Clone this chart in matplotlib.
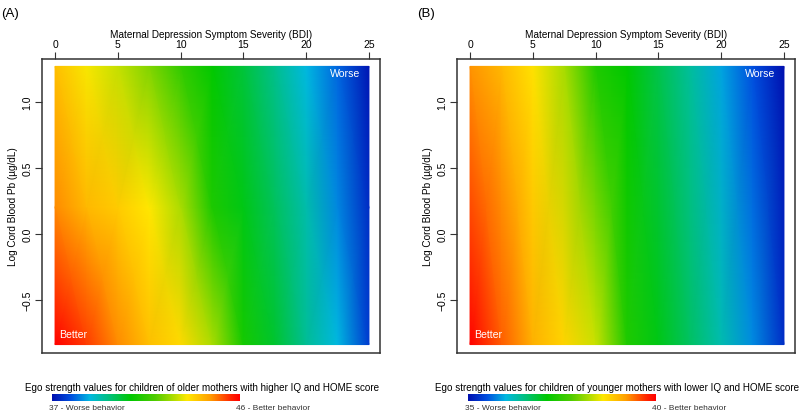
import numpy as np
import matplotlib.pyplot as plt
from matplotlib.colors import LinearSegmentedColormap

plt.rcParams['font.family'] = ['Liberation Sans', 'DejaVu Sans']

# BDI grid (x) and log cord blood Pb rows (y)
bdi = [0, 2.5, 5, 7.5, 10, 12.5, 15, 17.5, 20, 22.5, 25]
pb_a = [-0.84, 0.2, 1.27]
pb_b = [-0.84, 1.27]

# ego strength values, rows bottom -> top
ego_a_bottom = [46.0, 45.4, 44.7, 44.1, 43.7, 42.8, 41.1, 40.4, 39.5, 38.8, 37.6]
ego_a_mid = [44.7, 44.2, 43.9, 43.5, 42.8, 41.2, 40.6, 40.0, 39.3, 38.4, 37.4]
ego_a_top = [44.1, 43.4, 43.0, 42.4, 41.5, 40.8, 40.3, 39.6, 38.8, 38.1, 37.1]

# panel (B)
ego_b_bottom = [40.0, 39.5, 39.05, 38.75, 38.35, 37.35, 37.0, 36.65, 36.25, 35.8, 35.25]
ego_b_top = [39.25, 39.0, 38.65, 38.2, 37.35, 37.1, 36.75, 36.35, 35.9, 35.5, 35.0]

range_a = (37, 46)
range_b = (35, 40)

titles = ["Ego strength values for children of older mothers with higher IQ and HOME score",
          "Ego strength values for children of younger mothers with lower IQ and HOME score"]

cmap = LinearSegmentedColormap.from_list("ego", [
    (0.00, "#0010b0"), (0.10, "#0050e0"), (0.20, "#00b8e0"), (0.30, "#00c080"),
    (0.42, "#00c800"), (0.55, "#50cc00"), (0.64, "#a8dc00"), (0.72, "#ffe800"),
    (0.84, "#ffa000"), (0.95, "#ff2800"), (1.00, "#ff0000")])

fig = plt.figure(figsize=(8, 4.14), dpi=100)
W, H = 800, 414

def px(l, t, r, b):
    return [l / W, 1 - b / H, (r - l) / W, (b - t) / H]

panels = [
    (42, 1, "(A)", pb_a, [ego_a_bottom, ego_a_mid, ego_a_top], range_a, titles[0], 52, 202),
    (457, 417, "(B)", pb_b, [ego_b_bottom, ego_b_top], range_b, titles[1], 468, 617),
]

for x0, lx, lab, ys, rows, vr, title, cx0, tx in panels:
    ax = fig.add_axes(px(x0, 60, x0 + 338, 354))
    Z = np.array(rows)
    ax.pcolormesh(bdi, ys, Z, shading="gouraud", cmap=cmap, vmin=vr[0], vmax=vr[1])
    ax.set_xlim(-1.04, 25.88)
    ax.set_ylim(-0.904, 1.326)
    ax.xaxis.tick_top()
    ax.xaxis.set_label_position("top")
    ax.set_xticks([0, 5, 10, 15, 20, 25])
    ax.set_yticks([-0.5, 0.0, 0.5, 1.0])
    ax.set_yticklabels(["\u22120.5", "0.0", "0.5", "1.0"], rotation=90, va="center")
    ax.tick_params(labelsize=7.5, length=5, width=0.8, color="#333333", pad=2)
    ax.set_xlabel("Maternal Depression Symptom Severity (BDI)", fontsize=7.2, labelpad=2)
    ax.set_ylabel("Log Cord Blood Pb (\u00b5g/dL)", fontsize=7.2, labelpad=3)
    for s in ax.spines.values():
        s.set_linewidth(1.1)
        s.set_color("#333333")
    ax.text(24.3, 1.22, "Worse", color="white", fontsize=7.6, ha="right", va="center")
    ax.text(0.3, -0.76, "Better", color="white", fontsize=7.6, ha="left", va="center")
    fig.text(lx / W, 1 - 14 / H, lab, fontsize=9.5, ha="left", va="center")

    # colour key below the panel
    cax = fig.add_axes(px(cx0, 395, cx0 + 188, 402))
    grad = np.linspace(vr[0], vr[1], 256).reshape(1, -1)
    cax.imshow(grad, aspect="auto", cmap=cmap, vmin=vr[0], vmax=vr[1])
    cax.axis("off")
    fig.text(tx / W, 1 - 388 / H, title, fontsize=7.1, ha="center", va="center")
    fig.text((cx0 - 3) / W, 1 - 409 / H, "%d - Worse behavior" % vr[0],
             fontsize=6, color="#333333", ha="left", va="center")
    fig.text((cx0 + 184) / W, 1 - 409 / H, "%d - Better behavior" % vr[1],
             fontsize=6, color="#333333", ha="left", va="center")

fig.savefig("out.png", dpi=100)
